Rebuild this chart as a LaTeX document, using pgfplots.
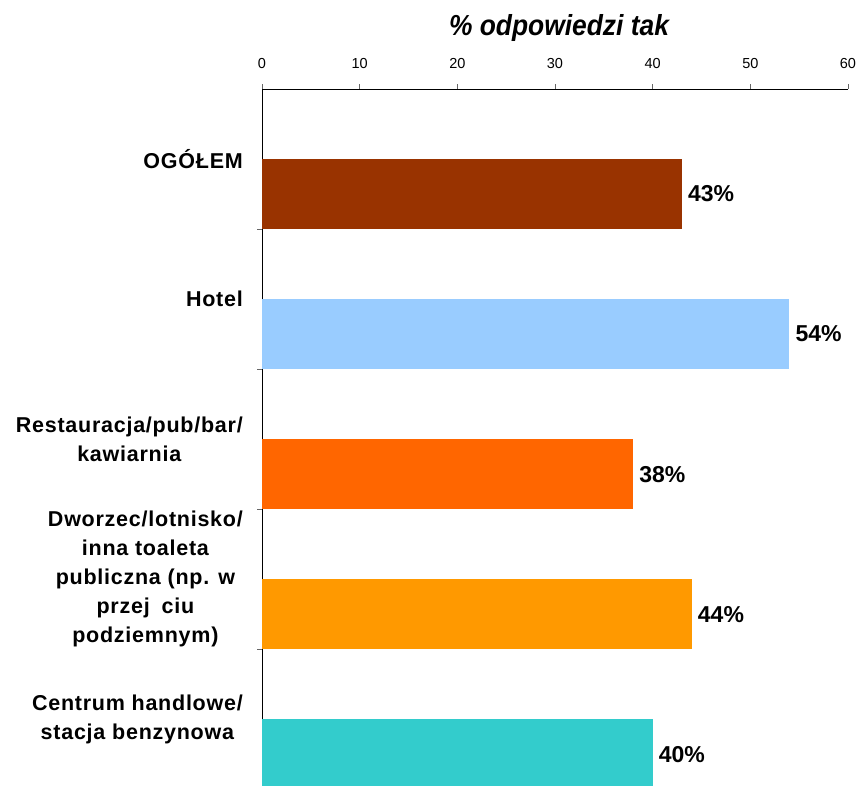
\documentclass[border=0pt]{standalone}
\usepackage{pgfplots}
\pgfplotsset{compat=1.18}
\usepackage{fontspec}
\setmainfont{Liberation Sans}
\newfontfamily\labfont[LetterSpace=3.5]{Liberation Sans}
\definecolor{c1}{HTML}{993300}
\definecolor{c2}{HTML}{99CCFF}
\definecolor{c3}{HTML}{FF6600}
\definecolor{c4}{HTML}{FF9900}
\definecolor{c5}{HTML}{33CCCC}
\begin{document}
\begin{tikzpicture}
\begin{axis}[
  at={(262pt,-89pt)}, anchor=north west,
  scale only axis, width=586pt, height=696pt,
  xmin=0, xmax=60, ymin=-0.47, ymax=4.5,
  axis x line*=top, axis y line*=left,
  axis line style={line width=1pt, black},
  xtick={0,10,...,60},
  /pgf/number format/assume math mode=true,
  x tick label style={font=\fontsize{14.5}{17}\selectfont, yshift=12pt},
  tick align=outside, major tick length=5pt,
  tick style={black!60, line width=1pt},
  ytick={0.5,1.5,2.5,3.5}, yticklabels={},
  extra y ticks={0,1,2,3,4},
  extra y tick labels={{Centrum handlowe/\\stacja benzynowa},{Dworzec/lotnisko/\\inna toaleta\\publiczna (np. w\\przej\hspace{0.55em}ciu\\podziemnym)},{Restauracja/pub/bar/\\kawiarnia},Hotel,OGÓŁEM},
  extra y tick style={tick style={draw=none}, yticklabel style={font=\labfont\fontsize{21.5}{29}\selectfont\bfseries, align=center, inner sep=0pt, xshift=-14pt}},
  nodes near coords={\pgfmathprintnumber{\pgfplotspointmeta}\%},
  point meta=x,
  every node near coord/.append style={font=\fontsize{23}{26}\selectfont\bfseries, anchor=west, inner sep=0pt, xshift=6pt},
  clip=false,
]
\addplot[xbar, bar width=0.5, bar shift=0pt, fill=c1, draw=none] coordinates {(43,3.75)};
\addplot[xbar, bar width=0.5, bar shift=0pt, fill=c2, draw=none] coordinates {(54,2.75)};
\addplot[xbar, bar width=0.5, bar shift=0pt, fill=c3, draw=none] coordinates {(38,1.75)};
\addplot[xbar, bar width=0.5, bar shift=0pt, fill=c4, draw=none] coordinates {(44,0.75)};
\addplot[xbar, bar width=0.5, bar shift=0pt, fill=c5, draw=none] coordinates {(40,-0.25)};
\end{axis}
\node[font=\fontsize{29}{32}\selectfont\bfseries\itshape, xscale=0.91] at (559pt,-28pt) {\% odpowiedzi tak};
\pgfresetboundingbox
\path[use as bounding box] (0pt,0pt) rectangle (859pt,-785pt);
\end{tikzpicture}
\end{document}
